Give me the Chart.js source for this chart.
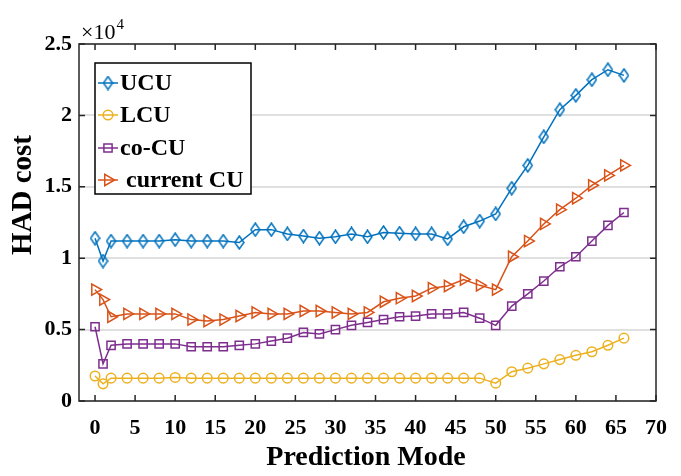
<!DOCTYPE html>
<html>
<head>
<meta charset="utf-8">
<script src="https://cdn.jsdelivr.net/npm/chart.js@4"></script>
<style>
  html, body { margin: 0; padding: 0; background: #fff; }
  canvas { display: block; }
</style>
</head>
<body>
<canvas id="hadChart" width="681" height="476"></canvas>
<script>
// prediction modes tested (0, 1, then even modes 2..66)
const modes = [0, 1, 2, 4, 6, 8, 10, 12, 14, 16, 18, 20, 22, 24, 26, 28, 30, 32, 34,
  36, 38, 40, 42, 44, 46, 48, 50, 52, 54, 56, 58, 60, 62, 64, 66];

const ucuCost = [11400, 9800, 11200, 11200, 11200, 11200, 11300, 11200, 11200, 11200, 11100,
  12000, 12000, 11700, 11550, 11400, 11500, 11700, 11500, 11800, 11750, 11700, 11700,
  11350, 12200, 12600, 13100, 14900, 16500, 18500, 20400, 21400, 22500, 23200, 22800];

const lcuCost = [1750, 1200, 1600, 1600, 1600, 1600, 1650, 1600, 1600, 1600, 1600,
  1600, 1600, 1600, 1600, 1600, 1600, 1600, 1600, 1600, 1600, 1600, 1600,
  1600, 1600, 1600, 1250, 2050, 2300, 2600, 2900, 3200, 3450, 3900, 4400];

const coCuCost = [5200, 2600, 3900, 4000, 4000, 4000, 4000, 3800, 3800, 3800, 3900,
  4000, 4200, 4400, 4800, 4700, 5000, 5300, 5500, 5700, 5900, 5950, 6100,
  6100, 6200, 5800, 5300, 6650, 7500, 8400, 9400, 10100, 11200, 12300, 13200];

const currentCuCost = [7800, 7100, 5900, 6100, 6100, 6100, 6100, 5700, 5600, 5700, 5950,
  6200, 6100, 6100, 6300, 6300, 6200, 6100, 6200, 6950, 7200, 7350, 7900,
  8050, 8500, 8100, 7800, 10100, 11200, 12400, 13400, 14200, 15100, 15800, 16500];

const xTicks = [0, 5, 10, 15, 20, 25, 30, 35, 40, 45, 50, 55, 60, 65, 70];
const yTicks = [0, 5000, 10000, 15000, 20000, 25000];

const FONT = "'Liberation Serif', 'Times New Roman', serif";
const AXIS_COLOR = '#262626';

// tall hollow diamond marker
function makeDiamond(color) {
  const c = document.createElement('canvas');
  c.width = 11;
  c.height = 15;
  const g = c.getContext('2d');
  g.strokeStyle = color;
  g.lineWidth = 1.5;
  g.beginPath();
  g.moveTo(5.5, 1);
  g.lineTo(10, 7.5);
  g.lineTo(5.5, 14);
  g.lineTo(1, 7.5);
  g.closePath();
  g.stroke();
  return c;
}

function series(label, values, color, style, radius, rotation) {
  return {
    label: label,
    data: modes.map((m, i) => ({ x: m, y: values[i] })),
    borderColor: color,
    backgroundColor: 'rgba(0,0,0,0)',
    borderWidth: 1.5,
    pointStyle: style,
    pointRadius: radius,
    pointRotation: rotation || 0,
    pointBorderColor: color,
    pointBackgroundColor: 'rgba(0,0,0,0)',
    pointBorderWidth: 1.5,
    tension: 0
  };
}

// box around the plot, inward ticks on all four sides, exponent and axis titles
const axesBox = {
  id: 'axesBox',
  afterDatasetsDraw(chart) {
    const { ctx, chartArea: a, scales } = chart;
    const len = 6;
    ctx.save();
    ctx.strokeStyle = AXIS_COLOR;
    ctx.lineWidth = 1.5;
    ctx.beginPath();
    xTicks.forEach(v => {
      const px = scales.x.getPixelForValue(v);
      ctx.moveTo(px, a.bottom); ctx.lineTo(px, a.bottom - len);
      ctx.moveTo(px, a.top); ctx.lineTo(px, a.top + len);
    });
    yTicks.forEach(v => {
      const py = scales.y.getPixelForValue(v);
      ctx.moveTo(a.left, py); ctx.lineTo(a.left + len, py);
      ctx.moveTo(a.right, py); ctx.lineTo(a.right - len, py);
    });
    ctx.stroke();
    ctx.strokeRect(a.left, a.top, a.right - a.left, a.bottom - a.top);

    ctx.fillStyle = '#000';
    ctx.textBaseline = 'alphabetic';
    ctx.textAlign = 'left';
    ctx.font = '22px ' + FONT;
    ctx.fillText('\u00d710', a.left + 2, a.top - 5);
    const w = ctx.measureText('\u00d710').width;
    ctx.font = '15px ' + FONT;
    ctx.fillText('4', a.left + 3 + w, a.top - 15);

    ctx.font = 'bold 28px ' + FONT;
    ctx.textAlign = 'center';
    ctx.textBaseline = 'middle';
    ctx.fillText('Prediction Mode', 366, 458);

    ctx.save();
    ctx.translate(24, 195);
    ctx.rotate(-Math.PI / 2);
    ctx.font = 'bold 29px ' + FONT;
    ctx.fillText('HAD cost', 0, 0);
    ctx.restore();
    ctx.restore();
  }
};

// legend box in the upper-left of the plot
const insetLegend = {
  id: 'insetLegend',
  afterDraw(chart) {
    const { ctx } = chart;
    const bx = 95, by = 63, bw = 156, bh = 131;
    ctx.save();
    ctx.fillStyle = '#fff';
    ctx.fillRect(bx, by, bw, bh);
    ctx.strokeStyle = '#000';
    ctx.lineWidth = 1.5;
    ctx.strokeRect(bx, by, bw, bh);

    const rows = [83, 115, 148, 180];
    chart.data.datasets.forEach((ds, i) => {
      const y = rows[i];
      ctx.strokeStyle = ds.borderColor;
      ctx.lineWidth = ds.borderWidth;
      ctx.beginPath();
      ctx.moveTo(98, y);
      ctx.lineTo(118, y);
      ctx.stroke();
      ctx.fillStyle = 'rgba(0,0,0,0)';
      Chart.helpers.drawPoint(ctx, {
        pointStyle: ds.pointStyle,
        radius: ds.pointRadius,
        rotation: ds.pointRotation,
        borderWidth: ds.pointBorderWidth
      }, 108, y);
      ctx.fillStyle = '#000';
      ctx.font = 'bold 24px ' + FONT;
      ctx.textBaseline = 'middle';
      ctx.textAlign = 'left';
      ctx.fillText(ds.label, i === 3 ? 126 : 120, y + 1);
    });
    ctx.restore();
  }
};

new Chart(document.getElementById('hadChart'), {
  type: 'line',
  data: {
    datasets: [
      series('UCU', ucuCost, '#0072BD', makeDiamond('#0072BD'), 7),
      series('LCU', lcuCost, '#EDB120', 'circle', 4.8),
      series('co-CU', coCuCost, '#7E2F8E', 'rect', 5.8),
      series('current CU', currentCuCost, '#D95319', 'triangle', 6.5, 90)
    ]
  },
  options: {
    responsive: false,
    animation: false,
    layout: { padding: { top: 44, right: 13, left: 0, bottom: 0 } },
    plugins: {
      legend: { display: false },
      tooltip: { enabled: false }
    },
    scales: {
      x: {
        type: 'linear',
        min: -2,
        max: 70,
        afterFit(scale) { scale.height = 75; },
        afterBuildTicks(scale) { scale.ticks = xTicks.map(v => ({ value: v })); },
        grid: { display: false, drawTicks: false },
        border: { display: false },
        ticks: {
          color: '#000',
          padding: 14,
          maxRotation: 0,
          autoSkip: false,
          font: { family: FONT, size: 22, weight: 'bold' }
        }
      },
      y: {
        min: 0,
        max: 25000,
        afterFit(scale) { scale.width = 79; },
        afterBuildTicks(scale) { scale.ticks = yTicks.map(v => ({ value: v })); },
        grid: { color: '#e0e0e0', lineWidth: 2, drawTicks: false },
        border: { display: false },
        ticks: {
          color: '#000',
          padding: 7,
          callback: v => String(v / 10000),
          font: { family: FONT, size: 22, weight: 'bold' }
        }
      }
    }
  },
  plugins: [axesBox, insetLegend]
});
</script>
</body>
</html>
